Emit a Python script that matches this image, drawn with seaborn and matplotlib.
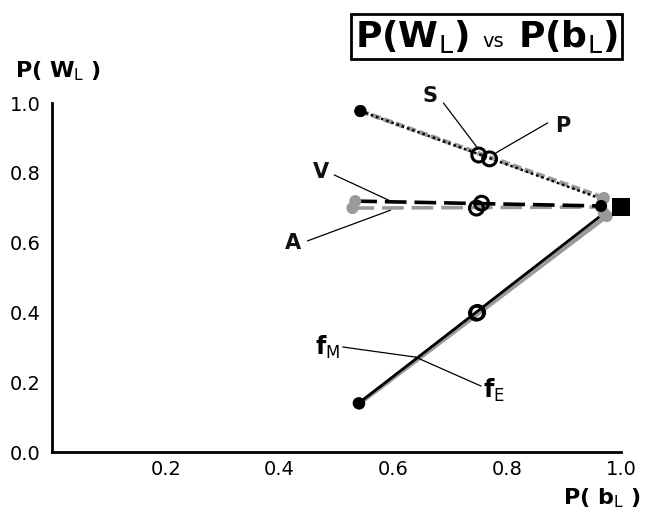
import matplotlib
matplotlib.use("Agg")
import matplotlib.pyplot as plt
import seaborn as sns
import pandas as pd
from matplotlib.offsetbox import TextArea, HPacker, AnchoredOffsetbox

# ---- data ----
series = ["S", "P", "V", "A", "fM", "fE"]
start_x = [0.542, 0.542, 0.533, 0.528, 0.539, 0.540]
start_y = [0.977, 0.977, 0.719, 0.699, 0.140, 0.139]
end_x = [0.968, 0.970, 0.965, 0.965, 0.970, 0.975]
end_y = [0.724, 0.728, 0.705, 0.702, 0.684, 0.676]
mid_x = [0.750, 0.769, 0.755, 0.746, 0.748, 0.746]
mid_y = [0.851, 0.840, 0.713, 0.699, 0.400, 0.398]
ref_x = [1.0]
ref_y = [0.702]
x_ticks = [0.2, 0.4, 0.6, 0.8, 1.0]
y_ticks = [0.0, 0.2, 0.4, 0.6, 0.8, 1.0]

sns.set_theme(style="white")
plt.rcParams["font.family"] = ["DejaVu Sans"]
plt.rcParams["text.color"] = "black"
plt.rcParams["xtick.color"] = "black"
plt.rcParams["ytick.color"] = "black"

fig = plt.figure(figsize=(6.45, 5.19), dpi=100)
ax = fig.add_axes([0.0806, 0.129, 0.8822, 0.6725])

GRAY = "#9a9a9a"
style = {
    "S":  dict(color="black", lw=1.8, ls=(0, (1.0, 1.2)), start="black", end=GRAY, z=4),
    "P":  dict(color=GRAY, lw=3.2, ls=(0, (2.0, 0.8)), start="black", end=GRAY, z=2),
    "V":  dict(color="black", lw=2.6, ls=(0, (6, 2.2)), start=GRAY, end="black", z=4),
    "A":  dict(color=GRAY, lw=2.6, ls=(0, (6, 2.2)), start=GRAY, end=GRAY, z=2),
    "fM": dict(color="black", lw=2.0, ls="-", start="black", end=GRAY, z=4),
    "fE": dict(color=GRAY, lw=3.2, ls="-", start="black", end=GRAY, z=2),
}

df = pd.DataFrame({"series": series, "sx": start_x, "sy": start_y,
                   "ex": end_x, "ey": end_y, "mx": mid_x, "my": mid_y})

# gray first, black on top
order = ["P", "A", "fE", "S", "V", "fM"]
end_z = {"P": 6, "S": 5, "A": 5, "V": 6, "fE": 6, "fM": 5}
for name in order:
    r = df[df.series == name].iloc[0]
    st = style[name]
    seg = pd.DataFrame({"x": [r.sx, r.ex], "y": [r.sy, r.ey]})
    sns.lineplot(data=seg, x="x", y="y", sort=False, ax=ax, color=st["color"],
                 lw=st["lw"], zorder=st["z"])
    ax.lines[-1].set_linestyle(st["ls"])
    sns.scatterplot(x=[r.ex], y=[r.ey], ax=ax, color=st["end"], s=75,
                    edgecolor="none", zorder=end_z[name], clip_on=False)
    sns.scatterplot(x=[r.sx], y=[r.sy], ax=ax, color=st["start"], s=75,
                    edgecolor="none", zorder=st["z"] + 1, clip_on=False)

# open circles
sns.scatterplot(data=df, x="mx", y="my", ax=ax, s=100, facecolor="none",
                edgecolor="black", linewidth=2.2, zorder=8, marker="o")
# reference square
sns.scatterplot(x=ref_x, y=ref_y, ax=ax, marker="s", s=170, color="black",
                edgecolor="none", zorder=9, clip_on=False)

# label annotations
lab_kw = dict(fontsize=15, fontweight="bold", color="#111111")
arr = dict(arrowstyle="-", lw=0.9, color="black", shrinkA=0, shrinkB=0)
ax.text(0.665, 1.02, "S", ha="center", va="center", **lab_kw)
ax.annotate("", xy=(0.748, 0.871), xytext=(0.688, 1.0), arrowprops=arr)
ax.text(0.898, 0.934, "P", ha="center", va="center", **lab_kw)
ax.annotate("", xy=(0.780, 0.857), xytext=(0.871, 0.943), arrowprops=arr)
ax.text(0.472, 0.802, "V", ha="center", va="center", **lab_kw)
ax.annotate("", xy=(0.599, 0.716), xytext=(0.496, 0.794), arrowprops=arr)
ax.text(0.424, 0.599, "A", ha="center", va="center", **lab_kw)
ax.annotate("", xy=(0.595, 0.693), xytext=(0.449, 0.605), arrowprops=arr)
ax.text(0.484, 0.301, r"$\mathbf{f}_{\mathrm{M}}$", ha="center", va="center",
        fontsize=17, family="DejaVu Serif")
ax.annotate("", xy=(0.639, 0.272), xytext=(0.511, 0.301), arrowprops=arr)
ax.text(0.776, 0.178, r"$\mathbf{f}_{\mathrm{E}}$", ha="center", va="center",
        fontsize=17, family="DejaVu Serif")
ax.annotate("", xy=(0.639, 0.272), xytext=(0.754, 0.189), arrowprops=arr)

# axes styling
ax.set_xlim(0, 1.0)
ax.set_ylim(0, 1.0)
ax.set_xlabel("")
ax.set_ylabel("")
for s in ["top", "right"]:
    ax.spines[s].set_visible(False)
for s in ["left", "bottom"]:
    ax.spines[s].set_color("black")
    ax.spines[s].set_linewidth(2.0)
ax.set_xticks(x_ticks)
ax.set_xticklabels([f"{v:.1f}" for v in x_ticks])
ax.set_yticks(y_ticks)
ax.set_yticklabels([f"{v:.1f}" for v in y_ticks])
ax.set_xticks([i * 0.05 for i in range(21)], minor=True)
ax.set_yticks([i * 0.05 for i in range(21)], minor=True)
ax.tick_params(which="major", direction="in", length=6, width=1.6, color="black",
               labelsize=14, labelcolor="black")
ax.tick_params(which="minor", direction="in", length=3, width=1.0, color="black")
ax.tick_params(axis="x", which="major", pad=6)
ax.tick_params(axis="y", which="major", pad=8)
ax.grid(False)

# axis titles
fig.text(0.023, 0.862, "P( W$_{\\mathrm{L}}$ )", fontsize=16, fontweight="bold",
         ha="left", va="center")
fig.text(0.994, 0.040, "P( b$_{\\mathrm{L}}$ )", fontsize=16, fontweight="bold",
         ha="right", va="center")

# boxed title
t1 = TextArea("P(W$_{\\mathrm{L}}$)", textprops=dict(fontsize=26, fontweight="bold"))
t2 = TextArea("vs", textprops=dict(fontsize=14))
t3 = TextArea("P(b$_{\\mathrm{L}}$)", textprops=dict(fontsize=26, fontweight="bold"))
box = HPacker(children=[t1, t2, t3], align="baseline", pad=0, sep=10)
anch = AnchoredOffsetbox(loc="center", child=box, pad=0.25, borderpad=0,
                         frameon=True, bbox_to_anchor=(0.754, 0.93),
                         bbox_transform=fig.transFigure)
anch.patch.set_edgecolor("black")
anch.patch.set_linewidth(2.0)
anch.patch.set_boxstyle("square", pad=0)
fig.add_artist(anch)

fig.savefig("out.png", dpi=100)
